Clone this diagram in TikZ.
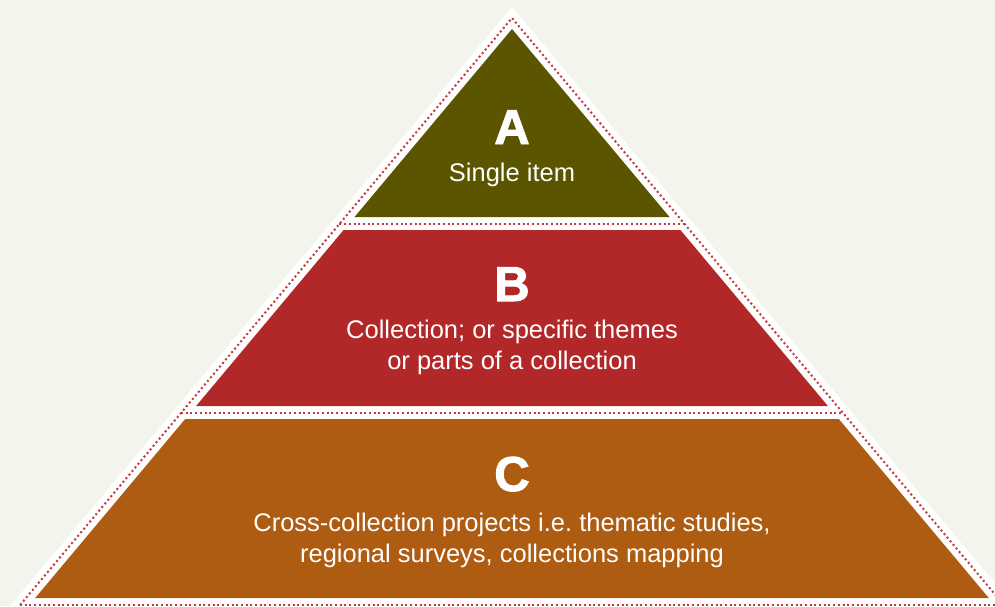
\documentclass[tikz,border=0pt]{standalone}
\usepackage{fontspec}
\setmainfont{Liberation Sans}
\newfontfamily\letterfont[FakeBold=2]{Liberation Sans Bold}
\definecolor{bgc}{HTML}{F3F4EC}
\definecolor{olivec}{HTML}{5B5500}
\definecolor{redc}{HTML}{B22828}
\definecolor{orangec}{HTML}{AD5C11}
\definecolor{dotc}{HTML}{C23B3B}
\frenchspacing
\begin{document}
\begin{tikzpicture}[x=1pt,y=-1pt,
  dotline/.style={dotc,line width=2pt,dash pattern=on 2pt off 2.7pt},
  letter/.style={text=white,inner sep=0,anchor=base,font=\letterfont\fontsize{49}{50}\selectfont},
  body/.style={text=white,inner sep=0,anchor=base,font=\fontsize{25.5}{28}\selectfont}]
\useasboundingbox (0,0) rectangle (995,606);
\fill[bgc] (0,0) rectangle (995,606);
\begin{scope}
\clip (0,0) rectangle (995,606);
% outer white triangle
\fill[white] (512,7) -- (1025.7,620) -- (-1.7,620) -- cycle;
% slanted dotted border
\coordinate (dl) at (20.1,605);
\coordinate (dt) at (512,18);
\coordinate (dr) at (1003.9,605);
\draw[dotline] (dl) -- (dt) -- (dr);
% tiers
\fill[olivec] (512,29) -- (669.5,217) -- (354.5,217) -- cycle;
\fill[redc] (343.6,230) -- (680.4,230) -- (827.9,406) -- (196.1,406) -- cycle;
\fill[orangec] (185.2,419) -- (838.8,419) -- (988.8,598) -- (35.2,598) -- cycle;
% horizontal dotted lines
\coordinate (h1l) at (339.4,224); \coordinate (h1r) at (684.6,224);
\coordinate (h2l) at (181,413);   \coordinate (h2r) at (843,413);
\coordinate (h3l) at (20,605);    \coordinate (h3r) at (1004,605);
\draw[dotline] (h1l) -- (h1r);
\draw[dotline] (h2l) -- (h2r);
\draw[dotline] (h3l) -- (h3r);
\end{scope}
% texts
\node[letter] (la) at (512,144) {A};
\node[body] (ta) at (512,181) {Single item};
\node[letter] (lb) at (512,301) {B};
\node[body] (tb1) at (512,338) {Collection; or specific themes};
\node[body] (tb2) at (512,369) {or parts of a collection};
\node[letter] (lc) at (512,491) {C};
\node[body] (tc1) at (512,531) {Cross-collection projects i.e. thematic studies,};
\node[body] (tc2) at (512,562) {regional surveys, collections mapping};
\end{tikzpicture}
\end{document}
